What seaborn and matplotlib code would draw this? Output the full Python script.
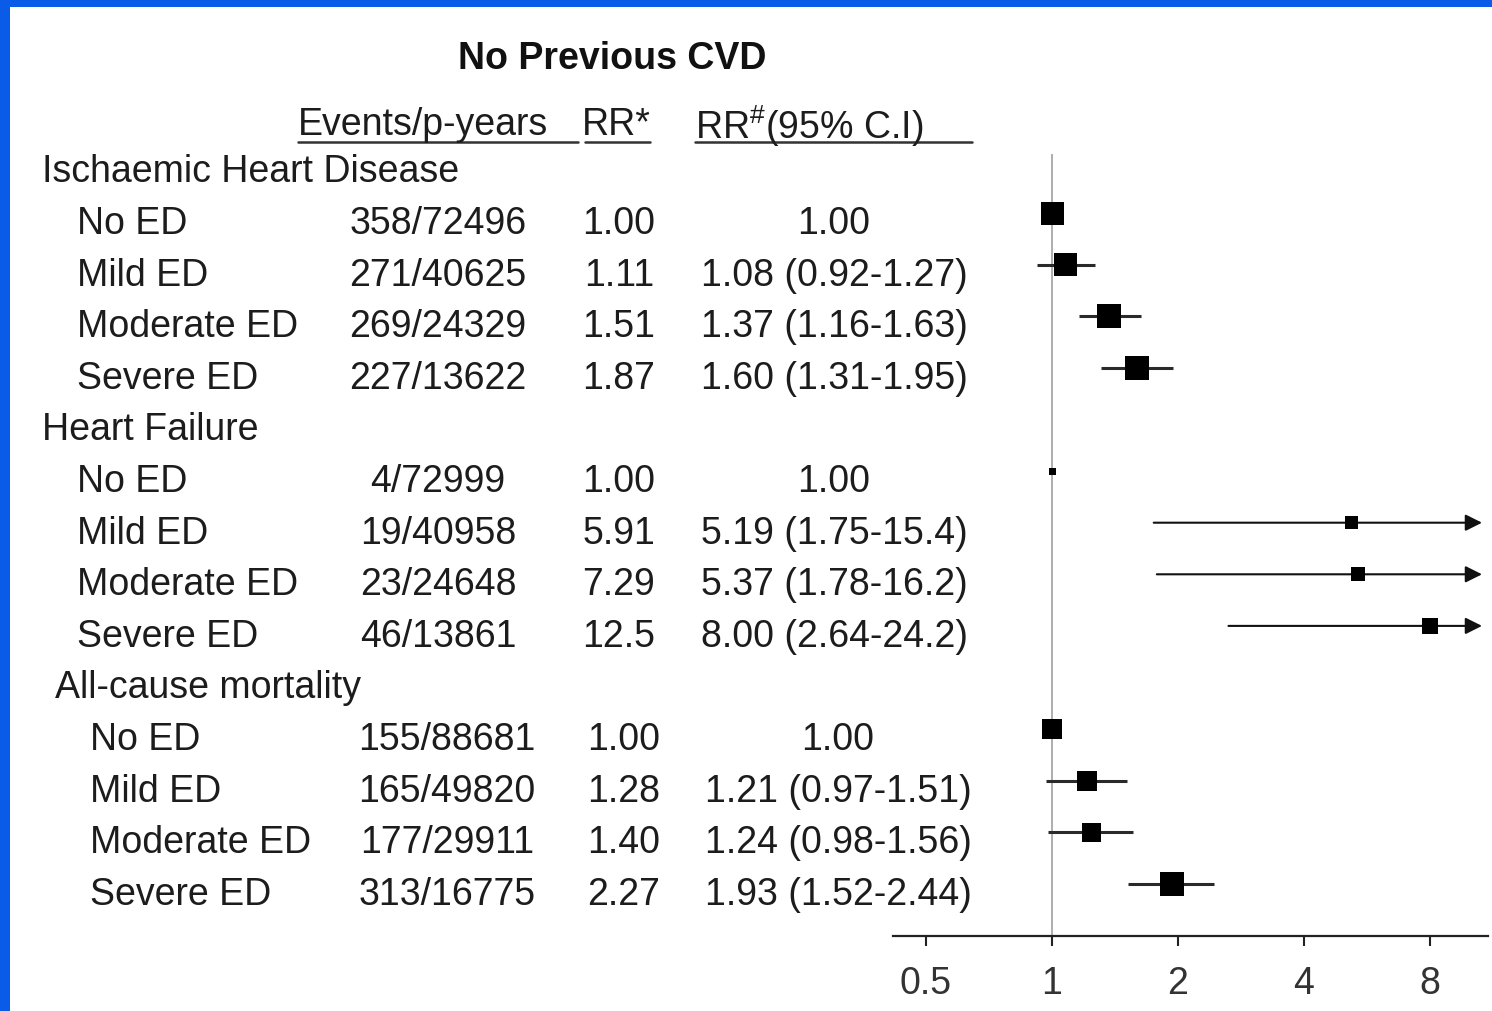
import numpy as np
import pandas as pd
import matplotlib
matplotlib.use("Agg")
import matplotlib.pyplot as plt
import matplotlib.transforms as mtransforms
from matplotlib.patches import Rectangle, ArrowStyle
from matplotlib.lines import Line2D
from matplotlib.ticker import NullLocator
import seaborn as sns

# ---------------- data ----------------
groups = ["Ischaemic Heart Disease", "Heart Failure", "All-cause mortality"]
levels = ["No ED", "Mild ED", "Moderate ED", "Severe ED"]
events = ["358/72496", "271/40625", "269/24329", "227/13622",
          "4/72999", "19/40958", "23/24648", "46/13861",
          "155/88681", "165/49820", "177/29911", "313/16775"]
rr_crude = ["1.00", "1.11", "1.51", "1.87",
            "1.00", "5.91", "7.29", "12.5",
            "1.00", "1.28", "1.40", "2.27"]
rr_adj = [1.00, 1.08, 1.37, 1.60,
          1.00, 5.19, 5.37, 8.00,
          1.00, 1.21, 1.24, 1.93]
ci_lo = [np.nan, 0.92, 1.16, 1.31,
         np.nan, 1.75, 1.78, 2.64,
         np.nan, 0.97, 0.98, 1.52]
ci_hi = [np.nan, 1.27, 1.63, 1.95,
         np.nan, 15.4, 16.2, 24.2,
         np.nan, 1.51, 1.56, 2.44]
weights = [23, 23, 24, 24,
           7, 13, 14, 16,
           20, 20, 19, 24]
xticks = [0.5, 1, 2, 4, 8]
xtick_labels = ["0.5", "1", "2", "4", "8"]
title = "No Previous CVD"

# ---------------- layout ----------------
W, H = 1492, 1012
sns.set_style("white")
plt.rcParams["font.family"] = ["Liberation Sans", "DejaVu Sans"]
plt.rcParams["mathtext.fontset"] = "custom"
plt.rcParams["mathtext.rm"] = "Liberation Sans"
plt.rcParams["mathtext.it"] = "Liberation Sans:italic"
plt.rcParams["mathtext.bf"] = "Liberation Sans:bold"

FS = 27
TXT = "#1c1c1c"

fig = plt.figure(figsize=(W / 100, H / 100), dpi=100)
fig.patch.set_facecolor("#0a5ce8")
fig.add_artist(Rectangle((10 / W, 0), 1, 1 - 8 / H, transform=fig.transFigure,
                         facecolor="white", edgecolor="none", zorder=-10))

ax_left, ax_right, ax_top, ax_bot = 893, 1488, 155, 937
ax = fig.add_axes([ax_left / W, 1 - ax_bot / H, (ax_right - ax_left) / W, (ax_bot - ax_top) / H])
ax.set_facecolor("none")
ax.set_xscale("log", base=2)
px_per_doubling = 126.0
x0 = 2 ** ((ax_left - 1052) / px_per_doubling)
x1 = 2 ** ((ax_right - 1052) / px_per_doubling)
ax.set_xlim(x0, x1)
row_px0, row_step = 162.5, 51.6
ax.set_ylim((ax_bot - row_px0) / row_step, (ax_top - row_px0) / row_step)

# rows: header then 4 levels per group
rows = []
gi_of_row = []
for g in range(len(groups)):
    base = g * 5
    for l in range(len(levels)):
        rows.append(base + 1 + l)
        gi_of_row.append(g)

df = pd.DataFrame({"rr": rr_adj, "lo": ci_lo, "hi": ci_hi, "row": rows,
                   "w": weights, "g": gi_of_row})

# reference line
ax.axvline(1, color="#a8a8a8", lw=1.3, zorder=1)

# confidence intervals
tip = x1 / 2 ** (6 / px_per_doubling)
for _, r in df.iterrows():
    if np.isnan(r["lo"]):
        continue
    if r["hi"] > x1:
        ax.annotate("", xy=(tip, r["row"]), xytext=(r["lo"], r["row"]),
                    arrowprops=dict(arrowstyle=ArrowStyle("-|>", head_length=1.0, head_width=0.5),
                                    mutation_scale=10, lw=1.5, color="#111111",
                                    shrinkA=0, shrinkB=0), zorder=2)
    else:
        ax.plot([r["lo"], r["hi"]], [r["row"], r["row"]], color="#2a2a2a",
                lw=2.2, solid_capstyle="butt", zorder=2)

# point estimates
sns.scatterplot(data=df, x="rr", y="row", marker="s", color="black",
                s=(df["w"] * 0.72) ** 2, linewidth=0, ax=ax, zorder=3, legend=False)

# axis styling
for s in ["top", "right", "left"]:
    ax.spines[s].set_visible(False)
ax.spines["bottom"].set_color("#222222")
ax.spines["bottom"].set_linewidth(1.6)
ax.set_xticks(xticks)
ax.set_xticklabels(xtick_labels)
ax.xaxis.set_minor_locator(NullLocator())
ax.tick_params(axis="x", which="major", bottom=True, direction="out", length=7,
               width=1.5, color="#222222", labelsize=FS, labelcolor="#333333", pad=14)
ax.set_yticks([])
ax.set_xlabel("")
ax.set_ylabel("")

# ---------------- table text ----------------
tr = mtransforms.blended_transform_factory(fig.transFigure, ax.transData)
txt_off = 6 / row_step
head_x = [42, 42, 55]
lvl_x = [77, 77, 90]
ev_x = [438, 438, 447]
rrc_x = [619, 619, 624]
rra_x = [834, 834, 838]

for g, name in enumerate(groups):
    ax.text(head_x[g] / W, g * 5 + txt_off, name, transform=tr, fontsize=FS,
            color=TXT, ha="left", va="center_baseline")

for i, r in df.iterrows():
    g = int(r["g"])
    y = r["row"] + txt_off
    lvl = levels[i % 4]
    ax.text(lvl_x[g] / W, y, lvl, transform=tr, fontsize=FS, color=TXT,
            ha="left", va="center_baseline")
    ax.text(ev_x[g] / W, y, events[i], transform=tr, fontsize=FS, color=TXT,
            ha="center", va="center_baseline")
    ax.text(rrc_x[g] / W, y, rr_crude[i], transform=tr, fontsize=FS, color=TXT,
            ha="center", va="center_baseline")
    if np.isnan(r["lo"]):
        s = f"{r['rr']:.2f}"
    else:
        hi = r["hi"]
        hi_s = f"{hi:.1f}" if hi >= 10 else f"{hi:.2f}"
        s = f"{r['rr']:.2f} ({r['lo']:.2f}-{hi_s})"
    ax.text(rra_x[g] / W, y, s, transform=tr, fontsize=FS, color=TXT,
            ha="center", va="center_baseline")

# title and column headers
fig.text(612 / W, 1 - 55 / H, title, fontsize=FS, fontweight="bold",
         color="#111111", ha="center", va="center_baseline")
fig.text(298 / W, 1 - 121 / H, "Events/p-years", fontsize=FS, color=TXT,
         ha="left", va="center_baseline")
fig.text(582 / W, 1 - 121 / H, "RR*", fontsize=FS, color=TXT,
         ha="left", va="center_baseline")
fig.text(695 / W, 1 - 121 / H, r"RR$^{\#}$(95% C.I)", fontsize=FS, color=TXT,
         ha="left", va="center_baseline")
for a, b in [(298, 578), (585, 650), (695, 972)]:
    fig.add_artist(Line2D([a / W, b / W], [1 - 143 / H, 1 - 143 / H],
                          transform=fig.transFigure, color="#333333", lw=1.8))

fig.savefig("out.png", dpi=100, facecolor=fig.get_facecolor())
